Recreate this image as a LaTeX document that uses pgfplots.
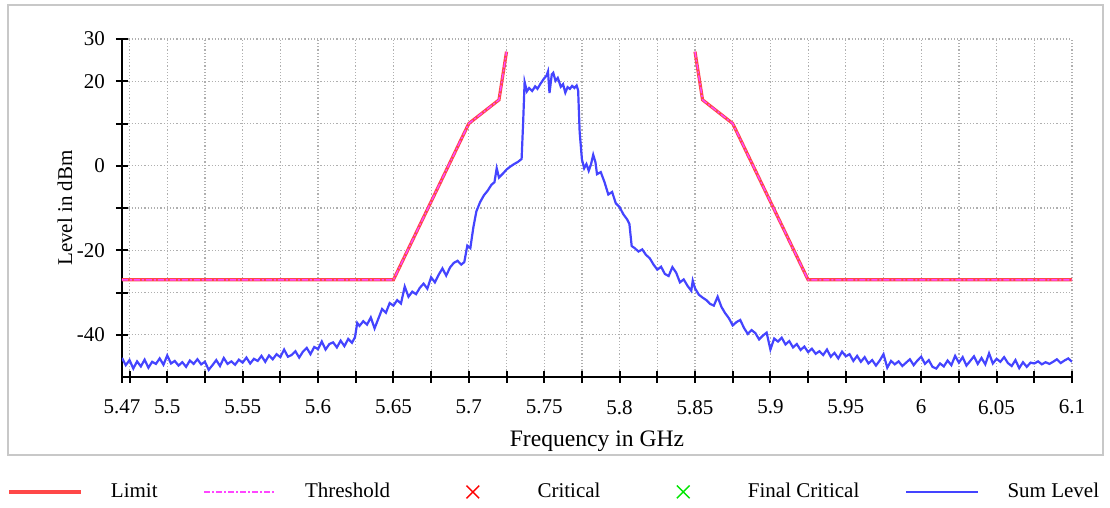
\documentclass[border=0pt]{standalone}
\usepackage{pgfplots}
\pgfplotsset{compat=1.18}
\usepackage{fontspec}
\setmainfont{Liberation Serif}

\definecolor{limitred}{RGB}{255,72,72}
\definecolor{threshmag}{RGB}{255,70,255}
\definecolor{sumblue}{RGB}{68,68,255}
\definecolor{critgreen}{RGB}{0,230,0}
\definecolor{framegray}{RGB}{200,200,200}
\definecolor{gridgray}{RGB}{175,175,175}

\begin{document}
\begin{tikzpicture}[font=\fontsize{10.5}{12}\selectfont]
\useasboundingbox (-61pt,-65.5pt) rectangle (494pt,188.5pt);
\draw[framegray, line width=1pt] (-57pt,-39pt) rectangle (490.5pt,186pt);
\begin{axis}[
    scale only axis,
    width=475pt, height=169pt,
    xmin=5.47, xmax=6.1,
    ymin=-50, ymax=30,
    axis lines*=left,
    axis line style={-, line width=1pt},
    xtick={5.47,5.475,5.5,5.525,5.55,5.575,5.6,5.625,5.65,5.675,5.7,5.725,5.75,5.775,5.8,5.825,5.85,5.875,5.9,5.925,5.95,5.975,6,6.025,6.05,6.075,6.1},
    xticklabels={5.47,,5.5,,5.55,,5.6,,5.65,,5.7,,5.75,,5.8,,5.85,,5.9,,5.95,,6,,6.05,,6.1},
    ytick={-40,-30,-20,-10,0,10,20,30},
    yticklabels={-40,,-20,,0,,20,30},
    tick align=center,
    major tick length=6pt,
    tick style={line width=1pt, black},
    xticklabel style={yshift=-5pt},
    yticklabel style={xshift=-2pt},
    grid=major,
    grid style={gridgray, line width=0.6pt, dash pattern=on 0.6pt off 1pt},
    xlabel={Frequency in GHz},
    ylabel={Level in dBm},
    every axis x label/.style={at={(axis description cs:0.5,-0.19)}, anchor=center, font=\fontsize{11.8}{13}\selectfont},
    every axis y label/.style={at={(axis description cs:-0.06,0.5)}, anchor=center, rotate=90, font=\fontsize{10.5}{12}\selectfont},
    legend columns=5,
    legend image code/.code={%
        \path (0pt,0pt) (36pt,0pt);
        \draw[mark repeat=2,mark phase=2,#1] plot coordinates {(0pt,0pt) (18pt,0pt) (36pt,0pt)};},
    legend style={draw=none, fill=none, at={(-0.127,-0.34)}, anchor=west,
        font=\fontsize{10.5}{12}\selectfont,
        /tikz/every odd column/.append style={column sep=12pt},
        /tikz/every even column/.append style={column sep=21pt}},
]
% limit mask
\addplot[limitred, line width=1.6pt] coordinates {
(5.47,-27) (5.65,-27) (5.70,10) (5.72,15.6) (5.725,27)
};
\addlegendentry{Limit}
\addplot[limitred, line width=1.6pt, forget plot] coordinates {
(5.85,27) (5.855,15.6) (5.875,10) (5.925,-27) (6.1,-27)
};
\addplot[threshmag, line width=0.7pt, dash pattern=on 3pt off 1pt on 1pt off 1pt] coordinates {
(5.47,-27) (5.65,-27) (5.70,10) (5.72,15.6) (5.725,27)
};
\addlegendentry{Threshold}
\addplot[threshmag, line width=0.7pt, dash pattern=on 3pt off 1pt on 1pt off 1pt, forget plot] coordinates {
(5.85,27) (5.855,15.6) (5.875,10) (5.925,-27) (6.1,-27)
};
\addlegendimage{only marks, mark=x, mark size=4.5pt, red, line width=0.7pt}
\addlegendentry{Critical}
\addlegendimage{only marks, mark=x, mark size=4.5pt, critgreen, line width=0.7pt}
\addlegendentry{Final Critical}
% measured sum level
\addplot[sumblue, line width=1.1pt] coordinates {
(5.470,-45.5) (5.4725,-47.2) (5.475,-46.0) (5.4775,-48.0) (5.480,-46.3) (5.4825,-47.5)
(5.485,-45.9) (5.4875,-47.8) (5.490,-46.4) (5.4925,-46.9) (5.495,-45.6) (5.4975,-47.1)
(5.500,-44.9) (5.5025,-46.8) (5.505,-46.2) (5.5075,-47.3) (5.510,-46.5) (5.5125,-47.6)
(5.515,-46.1) (5.5175,-46.9) (5.520,-45.8) (5.5225,-47.0) (5.525,-46.4) (5.5275,-48.3)
(5.530,-47.2) (5.5325,-46.0) (5.535,-47.4) (5.5375,-45.5) (5.540,-46.9) (5.5425,-46.3)
(5.545,-47.1) (5.5475,-45.9) (5.550,-46.6) (5.5525,-45.4) (5.555,-46.8) (5.5575,-45.7)
(5.560,-46.2) (5.5625,-45.0) (5.565,-46.4) (5.5675,-44.9) (5.570,-45.8) (5.5725,-44.6)
(5.575,-45.3) (5.5775,-43.5) (5.580,-45.2) (5.5825,-44.8) (5.585,-43.9) (5.5875,-45.4)
(5.590,-44.0) (5.5925,-43.1) (5.595,-44.6) (5.5975,-42.9) (5.600,-43.4) (5.6025,-41.6)
(5.605,-43.5) (5.6075,-42.2) (5.610,-41.8) (5.6125,-43.0) (5.615,-41.4) (5.6175,-42.7)
(5.620,-41.0) (5.6225,-41.9) (5.6245,-40.6) (5.626,-37.2) (5.6275,-37.9) (5.630,-36.8)
(5.6325,-37.6) (5.635,-35.9) (5.6375,-38.5) (5.640,-36.2) (5.6425,-33.9) (5.645,-34.8)
(5.6475,-32.5) (5.650,-33.1) (5.6525,-31.8) (5.655,-32.6) (5.6575,-28.6) (5.660,-31.0)
(5.6625,-29.8) (5.665,-30.4) (5.6675,-28.9) (5.670,-27.9) (5.6725,-29.1) (5.675,-26.4)
(5.6775,-27.6) (5.680,-25.8) (5.6825,-24.3) (5.685,-26.0) (5.6875,-24.1) (5.690,-23.0)
(5.6925,-22.5) (5.695,-23.4) (5.697,-22.8) (5.699,-18.9) (5.701,-19.5) (5.703,-14.6)
(5.705,-10.8) (5.7075,-8.6) (5.710,-7.0) (5.7125,-5.9) (5.715,-4.5) (5.717,-3.9)
(5.7185,-0.6) (5.720,-2.8) (5.7225,-1.9) (5.725,-0.9) (5.7275,-0.2) (5.730,0.4)
(5.7325,0.9) (5.735,1.6) (5.736,10.0) (5.737,19.8) (5.7385,17.6) (5.740,18.4)
(5.742,17.7) (5.744,18.8) (5.7455,18.2) (5.7475,19.4) (5.750,20.7) (5.7515,21.3)
(5.7525,22.3) (5.7535,17.2) (5.755,21.6) (5.756,22.0) (5.7575,20.1) (5.759,20.8)
(5.761,18.7) (5.7625,19.3) (5.764,17.3) (5.7655,18.6) (5.767,18.2) (5.7685,18.9)
(5.770,18.4) (5.7715,19.0) (5.7725,17.8) (5.7735,8.0) (5.775,1.5) (5.7765,-0.6)
(5.778,0.4) (5.7795,-1.2) (5.781,0.3) (5.7825,2.6) (5.784,0.8) (5.785,-2.0)
(5.7875,-1.5) (5.790,-3.9) (5.7925,-6.8) (5.795,-6.2) (5.7975,-8.9) (5.800,-9.8)
(5.8025,-11.5) (5.805,-12.7) (5.8065,-13.8) (5.808,-19.0) (5.810,-19.5) (5.8125,-20.3)
(5.815,-19.8) (5.8175,-21.1) (5.820,-21.9) (5.8225,-23.4) (5.825,-24.6) (5.8275,-23.9)
(5.830,-25.6) (5.8325,-26.1) (5.835,-24.0) (5.8375,-25.3) (5.840,-27.6) (5.8425,-26.9)
(5.845,-28.4) (5.8475,-29.6) (5.8485,-27.2) (5.850,-29.0) (5.8525,-30.5) (5.855,-31.2)
(5.8575,-31.8) (5.860,-32.7) (5.8625,-33.1) (5.865,-31.0) (5.8675,-33.4) (5.870,-34.9)
(5.8725,-36.1) (5.875,-37.8) (5.8775,-37.0) (5.880,-36.5) (5.8825,-38.4) (5.885,-39.8)
(5.8875,-38.9) (5.890,-39.6) (5.8925,-41.1) (5.895,-40.2) (5.8975,-39.5) (5.900,-43.5)
(5.9025,-40.9) (5.905,-41.6) (5.9075,-40.7) (5.910,-42.3) (5.9125,-41.5) (5.915,-43.0)
(5.9175,-42.2) (5.920,-43.6) (5.9225,-42.8) (5.925,-44.1) (5.9275,-43.3) (5.930,-44.5)
(5.9325,-43.9) (5.935,-44.8) (5.9375,-43.5) (5.940,-45.2) (5.9425,-44.3) (5.945,-45.6)
(5.9475,-44.0) (5.950,-45.1) (5.9525,-44.6) (5.955,-46.2) (5.9575,-45.0) (5.960,-46.4)
(5.9625,-45.3) (5.965,-46.8) (5.9675,-46.0) (5.970,-47.3) (5.9725,-46.1) (5.975,-44.6)
(5.9775,-47.8) (5.980,-46.2) (5.9825,-47.0) (5.985,-46.3) (5.9875,-47.4) (5.990,-46.6)
(5.9925,-45.8) (5.995,-47.2) (5.9975,-46.1) (6.000,-45.2) (6.0025,-46.9) (6.005,-46.0)
(6.0075,-47.6) (6.010,-48.0) (6.0125,-46.8) (6.015,-47.5) (6.0175,-46.1) (6.020,-47.2)
(6.0225,-45.0) (6.025,-46.6) (6.0275,-45.3) (6.030,-47.3) (6.0325,-46.2) (6.035,-45.1)
(6.0375,-46.9) (6.040,-45.5) (6.0425,-47.0) (6.045,-44.4) (6.0475,-46.8) (6.050,-45.7)
(6.0525,-46.4) (6.055,-45.3) (6.0575,-46.7) (6.060,-47.4) (6.0625,-46.0) (6.065,-47.9)
(6.0675,-46.5) (6.070,-47.6) (6.0725,-46.6) (6.075,-46.8) (6.0775,-46.3) (6.080,-47.0)
(6.0825,-46.5) (6.085,-46.9) (6.0875,-46.4) (6.090,-45.8) (6.0925,-46.7) (6.095,-46.1)
(6.0975,-45.6) (6.100,-46.4)
};
\addlegendentry{Sum Level}
\end{axis}
\end{tikzpicture}
\end{document}
